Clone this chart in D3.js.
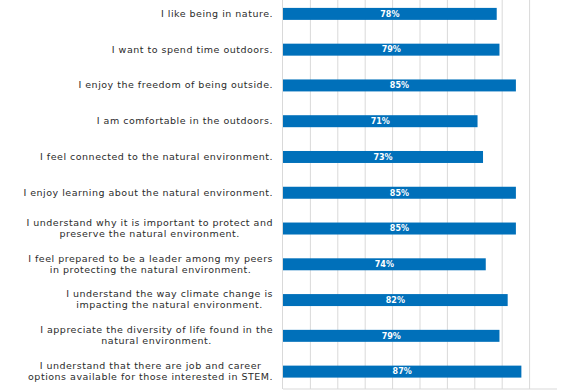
<!DOCTYPE html>
<html><head><meta charset="utf-8">
<script src="https://cdn.jsdelivr.net/npm/d3@7"></script>
<style>body{margin:0;background:#fff}svg{display:block}</style>
</head><body>
<script>
const categories = [
  ["I like being in nature."],
  ["I want to spend time outdoors."],
  ["I enjoy the freedom of being outside."],
  ["I am comfortable in the outdoors."],
  ["I feel connected to the natural environment."],
  ["I enjoy learning about the natural environment."],
  ["I understand why it is important to protect and", "preserve the natural environment."],
  ["I feel prepared to be a leader among my peers", "in protecting the natural environment."],
  ["I understand the way climate change is", "impacting the natural environment."],
  ["I appreciate the diversity of life found in the", "natural environment."],
  ["I understand that there are job and career", "options available for those interested in STEM."]
];
const values = [0.78, 0.79, 0.85, 0.71, 0.73, 0.85, 0.85, 0.74, 0.82, 0.79, 0.87];
const gridTicks = [0.1, 0.2, 0.3, 0.4, 0.5, 0.6, 0.7, 0.8, 0.9];

(function() {
const W = 572, H = 390;
const mLeft = 283, mRight = 557, mTop = -4, mBottom = 389.5;
const svg = d3.select("body").append("svg").attr("width", W).attr("height", H);

const x = d3.scaleLinear().domain([0, 1]).range([mLeft, mRight]);
const ids = categories.map((c, i) => i);
const y = d3.scaleBand().domain(ids).range([mTop, mBottom]).paddingInner(0.665).paddingOuter(0.3325);

svg.append("g").selectAll("line").data(gridTicks).join("line")
  .attr("x1", d => x(d)).attr("x2", d => x(d))
  .attr("y1", mTop).attr("y2", 389)
  .attr("stroke", "#d9d9d9").attr("stroke-width", 1);

svg.append("line").attr("x1", x(0)).attr("x2", x(1)).attr("y1", 389).attr("y2", 389)
  .attr("stroke", "#d9d9d9").attr("stroke-width", 1);
svg.append("line").attr("x1", x(0) - 0.5).attr("x2", x(0) - 0.5).attr("y1", mTop).attr("y2", 389)
  .attr("stroke", "#d9d9d9").attr("stroke-width", 1);

svg.append("g").selectAll("rect").data(values).join("rect")
  .attr("x", x(0)).attr("y", (d, i) => y(i))
  .attr("width", d => x(d) - x(0)).attr("height", y.bandwidth())
  .attr("fill", "#0070ba");

svg.append("g").selectAll("text").data(values).join("text")
  .attr("x", d => (x(0) + x(d)) / 2).attr("y", (d, i) => y(i) + y.bandwidth() / 2)
  .attr("dy", "0.35em").attr("text-anchor", "middle")
  .attr("font-family", "DejaVu Sans").attr("font-weight", "bold").attr("font-size", "8px")
  .attr("fill", "#fff").text(d => Math.round(d * 100) + "%");

const labelRight = 273;
const lineH = 11;
const lg = svg.append("g").attr("font-family", "DejaVu Sans").attr("font-size", "9.5px")
  .attr("fill", "#2b2b2b").attr("letter-spacing", "0.5px");
categories.forEach((lines, i) => {
  const cy = y(i) + y.bandwidth() / 2;
  const t = lg.append("text").attr("text-anchor", "middle");
  lines.forEach((ln, j) => {
    t.append("tspan").attr("y", cy + (j - (lines.length - 1) / 2) * lineH).attr("dy", "0.3em").text(ln);
  });
  let maxW = 0;
  t.selectAll("tspan").each(function() { maxW = Math.max(maxW, this.getComputedTextLength()); });
  t.selectAll("tspan").attr("x", labelRight - maxW / 2);
});
})();
</script>
</body></html>
